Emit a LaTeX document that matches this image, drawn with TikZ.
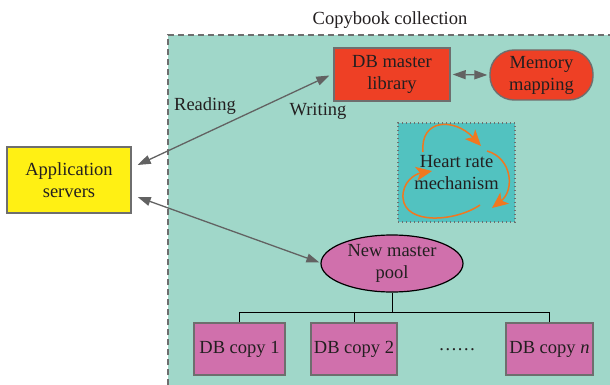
\documentclass[tikz,border=0pt]{standalone}
\usepackage{fontspec}
\setmainfont{Liberation Serif}
\usetikzlibrary{arrows.meta,shapes.geometric}
\definecolor{bgteal}{HTML}{A0D7C9}
\definecolor{hrteal}{HTML}{52C2C0}
\definecolor{dbred}{HTML}{EE4025}
\definecolor{appyel}{HTML}{FFF014}
\definecolor{pink}{HTML}{D070AC}
\definecolor{edgegray}{HTML}{6E6E6E}
\definecolor{arrgray}{HTML}{626262}
\definecolor{orng}{HTML}{F07820}
\definecolor{txt}{HTML}{231F20}
\tikzset{
  lbl/.style={font=\fontsize{18.5}{22}\selectfont, text=txt, align=center, inner sep=0pt},
  boxnode/.style={lbl, draw=edgegray, line width=1.4pt},
  garrow/.style={draw=arrgray, line width=1.3pt, {Triangle[length=13pt,width=9pt]}-{Triangle[length=13pt,width=9pt]}},
  oarrow/.style={draw=orng, line width=1.5pt, -{Stealth[length=16pt,width=14pt,inset=4pt]}},
  treeline/.style={draw=black, line width=1pt}
}
\begin{document}
\begin{tikzpicture}[x=1pt,y=-1pt]
\useasboundingbox (0,0) rectangle (610,385);
\begin{scope}
\clip (0,0) rectangle (610,385);
\fill[bgteal] (168,35) rectangle (620,395);
\draw[edgegray, line width=1.2pt, dash pattern=on 6pt off 4pt] (168,395) -- (168,35) -- (620,35);
\end{scope}
\node[lbl] (title) at (390,20) {Copybook collection};
% nodes
\node[boxnode, fill=dbred, minimum width=116pt, minimum height=53pt] (db) at (392,74.5) {DB master\\library};
\node[boxnode, fill=dbred, minimum width=103pt, minimum height=50pt, rounded corners=24pt] (mem) at (541.5,75) {Memory\\mapping};
\node[lbl, fill=hrteal, draw=edgegray, line width=1.2pt, dash pattern=on 1pt off 3pt, minimum width=117pt, minimum height=99pt] (hr) at (456.5,172.5) {Heart rate\\mechanism};
\node[boxnode, fill=appyel, minimum width=124pt, minimum height=66pt] (app) at (69,180) {Application\\servers};
\node[lbl, ellipse, fill=pink, draw=black, line width=1.2pt, minimum width=142pt, minimum height=57pt] (pool) at (392,263.5) {New master\\pool};
\node[boxnode, fill=pink, minimum width=91pt, minimum height=52pt] (c1) at (239.5,349) {DB copy 1};
\node[boxnode, fill=pink, minimum width=86pt, minimum height=52pt] (c2) at (354,349) {DB copy 2};
\node[boxnode, fill=pink, minimum width=87pt, minimum height=52pt] (cn) at (549.5,349) {DB copy \textit{n}};
\node[lbl] (dots) at (457,350) {……};
\node[lbl] (rd) at (205,106) {Reading};
\node[lbl] (wr) at (318,111) {Writing};
% arrows
\draw[garrow] ([xshift=6pt,yshift=15pt]app.east) -- ([xshift=-4pt,yshift=-1pt]db.west);
\draw[garrow] ([xshift=6pt,yshift=-17pt]app.east) -- ([xshift=-1pt,yshift=1pt]pool.west);
\draw[garrow] ([xshift=2pt]db.east) -- ([xshift=-2pt]mem.west);
% tree
\coordinate (tj) at (392,312);
\draw[treeline] (pool.south) -- (tj);
\draw[treeline] (c1.north) |- (tj);
\draw[treeline] (c2.north) -- (c2.north |- tj);
\draw[treeline] (cn.north) |- (tj);
% heart rate arrows
\draw[oarrow] (423,152) .. controls (420,118) and (455,118) .. (481,146);
\draw[oarrow] (487,151) .. controls (512,158) and (515,190) .. (492,208);
\draw[oarrow] (480,205) .. controls (455,222) and (405,225) .. (403,198) .. controls (402,182) and (415,174) .. (432,171);
\end{tikzpicture}
\end{document}
